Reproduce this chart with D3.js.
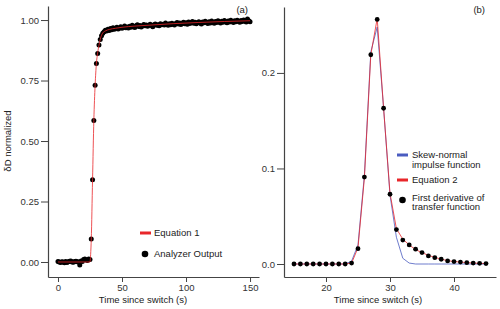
<!DOCTYPE html>
<html lang="en">
<head>
<meta charset="UTF-8">
<title>Transfer function</title>
<script src="https://cdnjs.cloudflare.com/ajax/libs/d3/7.8.5/d3.min.js"></script>
<style>
    body { margin: 0; background: #fff; }
    svg { display: block; font-family: "Liberation Sans", Arial, sans-serif; }
    .axis path, .axis line { stroke: #444; }
    .axis text { fill: #333; font-size: 9.5px; }
    .lbl { fill: #222; font-size: 9.5px; }
</style>
</head>
<body>
<div id="chart"></div>
<script>
// ---- panel (a): step response ----
const analyzerTime = d3.range(0, 151);
const analyzerValue = [
    0.002, 0.000, -0.002, 0.001, 0.000, -0.003, 0.002, -0.002, 0.001, 0.003,
    0.004, 0.000, -0.001, 0.002, 0.003, 0.001, 0.000, -0.012, 0.004, 0.002,
    0.010, 0.012, 0.008, 0.006, 0.012, 0.010,
    0.095, 0.340, 0.585, 0.730, 0.820, 0.862, 0.897, 0.920, 0.935, 0.945,
    0.952, 0.958, 0.955, 0.962, 0.957, 0.965, 0.960, 0.968, 0.962, 0.966,
    0.970, 0.963, 0.967, 0.972, 0.966, 0.969, 0.975, 0.968, 0.971, 0.967,
    0.974, 0.970, 0.978, 0.972, 0.969, 0.976, 0.980, 0.973, 0.977, 0.971,
    0.975, 0.982, 0.976, 0.979, 0.974, 0.978, 0.983, 0.977, 0.972, 0.980,
    0.984, 0.978, 0.981, 0.976, 0.985, 0.980, 0.983, 0.979, 0.988, 0.982,
    0.978, 0.985, 0.981, 0.987, 0.983, 0.979, 0.986, 0.990, 0.984, 0.988,
    0.982, 0.987, 0.991, 0.985, 0.989, 0.983, 0.992, 0.986, 0.990, 0.994,
    0.987, 0.991, 0.985, 0.989, 0.993, 0.988, 0.984, 0.992, 0.989, 0.995,
    0.990, 0.986, 0.993, 0.988, 0.996, 0.991, 0.987, 0.994, 0.990, 0.997,
    0.992, 0.988, 0.995, 0.991, 0.998, 0.993, 0.989, 0.996, 0.992, 0.999,
    0.994, 0.990, 0.997, 0.993, 0.999, 0.995, 0.991, 0.998, 0.994, 1.000,
    0.996, 0.992, 1.004, 0.997, 0.993
];
const eq1Time  = [0, 25, 25.5, 26, 27, 28, 29, 30, 31, 32, 33, 34, 35, 37, 40, 45, 50, 60, 75, 90, 110, 130, 150];
const eq1Value = [0, 0, 0.03, 0.095, 0.34, 0.585, 0.73, 0.82, 0.865, 0.895, 0.92, 0.937, 0.947, 0.955, 0.961, 0.966, 0.970, 0.975, 0.980, 0.985, 0.990, 0.994, 0.997];

// ---- panel (b): impulse response ----
const derivTime  = d3.range(15, 46);
const derivValue = [
    0, 0, 0, 0, 0, 0, 0, 0, 0,
    0.001, 0.016, 0.091, 0.219, 0.256, 0.163, 0.073, 0.036, 0.025, 0.020, 0.0155,
    0.012, 0.0085, 0.0066, 0.005, 0.0032, 0.0025, 0.002, 0.0014, 0.001, 0.0007, 0.0005
];
const eq2Value = [
    0, 0, 0, 0, 0, 0, 0, 0, 0,
    0.001, 0.017, 0.090, 0.219, 0.257, 0.163, 0.074, 0.037, 0.026, 0.020, 0.015,
    0.012, 0.009, 0.007, 0.005, 0.0035, 0.0026, 0.002, 0.0015, 0.001, 0.0007, 0.0005
];
const skewValue = [
    0, 0, 0, 0, 0, 0, 0, 0, 0,
    0.003, 0.020, 0.093, 0.222, 0.248, 0.163, 0.072, 0.028, 0.006, 0.001, 0,
    0, 0, 0, 0, 0, 0, 0, 0, 0, 0, 0
];

const RED = "#e8262a", BLUE = "#4a5cc0";
const W = 500, H = 309;

const svg = d3.select("#chart").append("svg").attr("width", W).attr("height", H);

function drawAxes(x, y, xTicks, yTicks, yFmt) {
    svg.append("g").attr("class", "axis")
        .attr("transform", `translate(0,${y.range()[0]})`)
        .call(d3.axisBottom(x).tickValues(xTicks).tickSize(5).tickPadding(2).tickSizeOuter(0));
    svg.append("g").attr("class", "axis")
        .attr("transform", `translate(${x.range()[0]},0)`)
        .call(d3.axisLeft(y).tickValues(yTicks).tickFormat(d3.format(yFmt)).tickSize(7).tickPadding(2).tickSizeOuter(0));
    svg.selectAll(".axis .domain").attr("stroke-width", 1.2);
}

// panel a
const xa = d3.scaleLinear().domain([-7.8, 157]).range([48, 259]);
const ya = d3.scaleLinear().domain([-0.062, 1.058]).range([277, 6]);
drawAxes(xa, ya, [0, 50, 100, 150], [0, 0.25, 0.5, 0.75, 1], ".2f");

svg.append("g").selectAll("circle")
    .data(analyzerTime.map((t, i) => [t, analyzerValue[i]]))
    .join("circle")
    .attr("cx", d => xa(d[0])).attr("cy", d => ya(d[1])).attr("r", 2.5)
    .attr("fill", "#000");

svg.append("path")
    .datum(eq1Time.map((t, i) => [t, eq1Value[i]]))
    .attr("fill", "none").attr("stroke", RED).attr("stroke-width", 0.8)
    .attr("d", d3.line().x(d => xa(d[0])).y(d => ya(d[1])).curve(d3.curveMonotoneX));

// panel b
const xb = d3.scaleLinear().domain([13.44, 46.56]).range([284, 496]);
const yb = d3.scaleLinear().domain([-0.0136, 0.269]).range([277, 7]);
drawAxes(xb, yb, [20, 30, 40], [0, 0.1, 0.2], ".1f");

const lineB = d3.line().x(d => xb(d[0])).y(d => yb(d[1]));
svg.append("path")
    .datum(derivTime.map((t, i) => [t, skewValue[i]]))
    .attr("fill", "none").attr("stroke", BLUE).attr("stroke-width", 0.8).attr("d", lineB);
svg.append("path")
    .datum(derivTime.map((t, i) => [t, eq2Value[i]]))
    .attr("fill", "none").attr("stroke", RED).attr("stroke-width", 0.8).attr("d", lineB);
svg.append("g").selectAll("circle")
    .data(derivTime.map((t, i) => [t, derivValue[i]]))
    .join("circle")
    .attr("cx", d => xb(d[0])).attr("cy", d => yb(d[1])).attr("r", 2.4)
    .attr("fill", "#000");

// axis titles
svg.append("text").attr("class", "lbl").attr("x", 143).attr("y", 302.5)
    .attr("text-anchor", "middle").text("Time since switch (s)");
svg.append("text").attr("class", "lbl").attr("x", 378).attr("y", 302.5)
    .attr("text-anchor", "middle").text("Time since switch (s)");
svg.append("text").attr("class", "lbl")
    .attr("transform", "translate(11,141) rotate(-90)")
    .attr("text-anchor", "middle").text("δD normalized");

svg.append("text").attr("class", "lbl").attr("x", 248).attr("y", 12.5)
    .attr("text-anchor", "end").text("(a)");
svg.append("text").attr("class", "lbl").attr("x", 485).attr("y", 12.5)
    .attr("text-anchor", "end").text("(b)");

// legends
function legLine(x, y, color) {
    svg.append("line").attr("x1", x).attr("x2", x + 11).attr("y1", y).attr("y2", y)
        .attr("stroke", color).attr("stroke-width", 3);
}
function legText(x, y, lines) {
    const t = svg.append("text").attr("class", "lbl").attr("x", x).attr("y", y + 3.3);
    lines.forEach((s, i) => t.append("tspan").attr("x", x).attr("dy", i ? 9.6 : 0).text(s));
}
legLine(140, 233, RED);
legText(154, 233, ["Equation 1"]);
svg.append("circle").attr("cx", 145).attr("cy", 254).attr("r", 3.3).attr("fill", "#000");
legText(154, 254, ["Analyzer Output"]);

legLine(397, 155, BLUE);
legText(412, 155, ["Skew-normal", "impulse function"]);
legLine(397, 180, RED);
legText(412, 180, ["Equation 2"]);
svg.append("circle").attr("cx", 402.5).attr("cy", 200).attr("r", 3.3).attr("fill", "#000");
legText(412, 197.5, ["First derivative of", "transfer function"]);
</script>
</body>
</html>
